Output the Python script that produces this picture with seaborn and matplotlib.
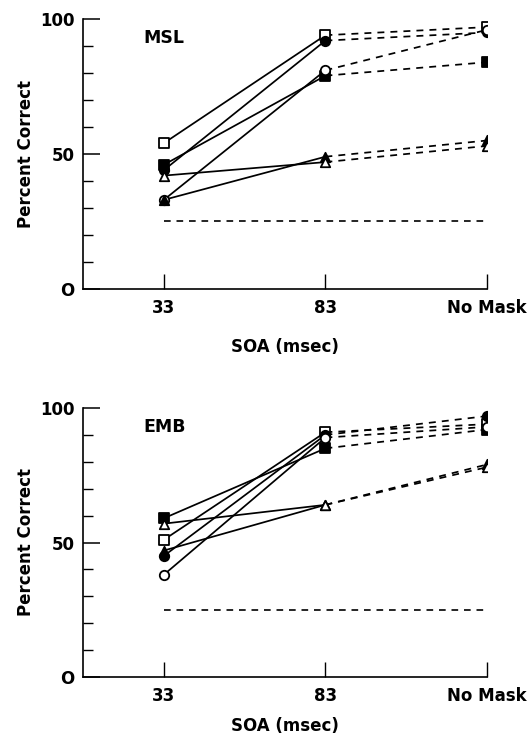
import matplotlib
matplotlib.use("Agg")
import matplotlib.pyplot as plt
import seaborn as sns
import pandas as pd
from matplotlib.ticker import MultipleLocator

sns.set_theme(style="ticks")
plt.rcParams['font.family'] = ['DejaVu Sans']
plt.rcParams.update({"text.color": "black", "axes.labelcolor": "black",
                     "xtick.color": "black", "ytick.color": "black",
                     "axes.edgecolor": "black"})

conditions = ["33", "83", "No Mask"]
series_names = ["open_square", "filled_square", "filled_circle", "open_circle",
                "filled_triangle", "open_triangle"]

msl_open_square = [54, 94, 97]
msl_filled_square = [46, 79, 84]
msl_filled_circle = [44, 92, 95]
msl_open_circle = [33, 81, 96]
msl_filled_triangle = [33, 49, 55]
msl_open_triangle = [42, 47, 53]

emb_open_square = [51, 91, 94]
emb_filled_square = [59, 85, 92]
emb_filled_circle = [45, 90, 97]
emb_open_circle = [38, 89, 93]
emb_filled_triangle = [47, 64, 79]
emb_open_triangle = [57, 64, 78]

chance = 25
panel_titles = ["MSL", "EMB"]

msl = [msl_open_square, msl_filled_square, msl_filled_circle, msl_open_circle,
       msl_filled_triangle, msl_open_triangle]
emb = [emb_open_square, emb_filled_square, emb_filled_circle, emb_open_circle,
       emb_filled_triangle, emb_open_triangle]

styles = {
    "open_square": ("s", "white"),
    "filled_square": ("s", "black"),
    "filled_circle": ("o", "black"),
    "open_circle": ("o", "white"),
    "filled_triangle": ("^", "black"),
    "open_triangle": ("^", "white"),
}

def make_df(panel):
    rows = []
    for name, vals in zip(series_names, panel):
        for i, v in enumerate(vals):
            rows.append({"series": name, "pos": i, "cond": conditions[i], "value": v})
    return pd.DataFrame(rows)

fig = plt.figure(figsize=(5.32, 7.47), dpi=100)
ax_rects = [
    [83/532, 1 - 289/747, (487-83)/532, 270/747],
    [83/532, 1 - 677/747, (487-83)/532, 269/747],
]
xlabel_pads = [15.5, 9]

for rect, panel, title, xpad in zip(ax_rects, [msl, emb], panel_titles, xlabel_pads):
    ax = fig.add_axes(rect)
    df = make_df(panel)
    cdf = pd.DataFrame({"pos": [0, 2], "value": [chance, chance]})
    sns.lineplot(data=cdf, x="pos", y="value", ax=ax, color="black", lw=1.2,
                 linestyle=(0, (4, 3.5)))
    for name in series_names:
        sub = df[df.series == name]
        solid = sub[sub.pos <= 1]
        dashed = sub[sub.pos >= 1]
        sns.lineplot(data=solid, x="pos", y="value", ax=ax, color="black",
                     lw=1.25, estimator=None)
        sns.lineplot(data=dashed, x="pos", y="value", ax=ax, color="black",
                     lw=1.25, estimator=None, linestyle=(0, (4, 3.5)))
    for name in series_names:
        sub = df[df.series == name]
        m, fc = styles[name]
        sns.scatterplot(data=sub, x="pos", y="value", ax=ax, marker=m,
                        s=46, facecolor=fc, edgecolor="black", linewidth=1.3,
                        zorder=5)
    ax.set_xlim(-0.5, 2)
    ax.set_ylim(0, 100)
    ax.set_xticks([0, 1, 2])
    ax.set_xticklabels(conditions)
    ax.set_yticks([0, 50, 100])
    ax.set_yticklabels(["O", "50", "100"])
    ax.yaxis.set_minor_locator(MultipleLocator(10))
    ax.tick_params(axis="y", which="major", direction="in", length=12, width=1.1,
                   pad=6, labelsize=12)
    ax.tick_params(axis="y", which="minor", direction="in", length=7, width=1.0)
    ax.tick_params(axis="x", which="major", direction="in", length=11, width=1.0,
                   pad=7, labelsize=12)
    for lab in ax.get_xticklabels() + ax.get_yticklabels():
        lab.set_fontweight("bold")
    ax.set_xlabel("SOA (msec)", fontsize=12, fontweight="bold", labelpad=xpad)
    ax.set_ylabel("Percent Correct", fontsize=12, fontweight="bold", labelpad=3.5)
    ax.text(-0.125, 93, title, fontsize=12.5, fontweight="bold", va="center", ha="left")
    sns.despine(ax=ax)
    ax.spines["left"].set_linewidth(1.2)
    ax.spines["bottom"].set_linewidth(1.2)
    ax.set_facecolor("white")

fig.savefig("out.png", dpi=100, facecolor="white")
